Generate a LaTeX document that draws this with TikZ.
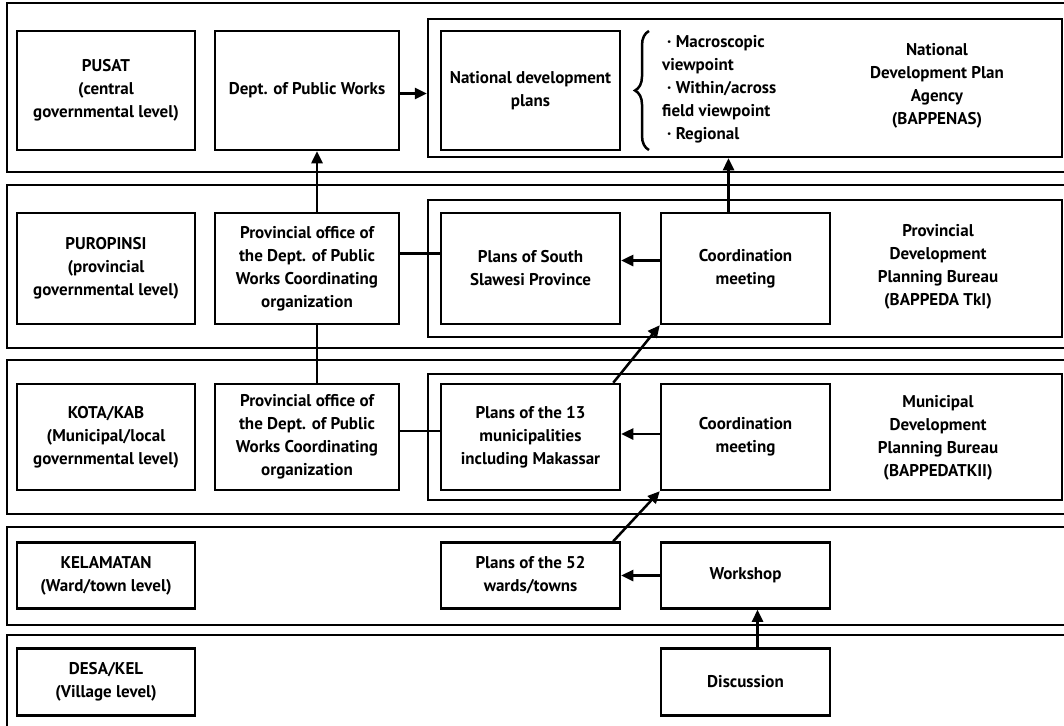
\documentclass[tikz,border=0pt]{standalone}
\usepackage{fontspec}
\setmainfont{PT Sans}
\usetikzlibrary{arrows.meta,decorations.pathreplacing,calc}
\begin{document}
\begin{tikzpicture}[x=1pt,y=-1pt,
  txt/.style={font=\bfseries\fontsize{17}{23}\selectfont,align=center,inner sep=1pt},
  bx/.style={txt,draw,line width=2.5pt},
  grp/.style={draw,line width=2.5pt,inner sep=0pt},
  band/.style={draw,line width=2.5pt},
  arr/.style={line width=2.5pt,-{Triangle[length=12pt,width=11pt]}},
  ln/.style={line width=2.5pt}]
\useasboundingbox (0,0) rectangle (1064,725);
% bands (right edges run off the page, as in the scan)
\draw[band] (7,3) rectangle (1090,172);
\draw[band] (7,185) rectangle (1090,348);
\draw[band] (7,360) rectangle (1090,514);
\draw[band] (7,527) rectangle (1090,625);
\draw[band] (7,745) -- (7,635) -- (1090,635);
% group boxes
\node[grp,minimum width=634pt,minimum height=138pt] (g1) at (745,88) {};
\node[grp,minimum width=634pt,minimum height=137pt] (g2) at (745,268.5) {};
\node[grp,minimum width=634pt,minimum height=126pt] (g3) at (745,437) {};
% band 1
\node[bx,minimum width=178pt,minimum height=119pt] (l1) at (106,90.5) {PUSAT\\(central\\governmental level)};
\node[bx,minimum width=184pt,minimum height=119pt] (dept) at (307,90.5) {Dept. of Public Works};
\node[bx,minimum width=179pt,minimum height=119pt] (nat) at (530.5,90.5) {National development\\plans};
\draw[decorate,decoration={brace,amplitude=14pt},line width=2.5pt] (649,150) -- (649,31);
\node[txt,align=left,anchor=west] (bul) at (661,89) {\hspace{5pt}· Macroscopic\\viewpoint\\\hspace{5pt}· Within/across\\field viewpoint\\\hspace{5pt}· Regional};
\node[txt] (bappenas) at (937,86) {National\\Development Plan\\Agency\\(BAPPENAS)};
% band 2
\node[bx,minimum width=178pt,minimum height=111pt] (l2) at (106,268.5) {PUROPINSI\\(provincial\\governmental level)};
\node[bx,minimum width=184pt,minimum height=111pt] (prov2) at (307,268.5) {Provincial office of\\the Dept. of Public\\Works Coordinating\\organization};
\node[bx,minimum width=179pt,minimum height=111pt] (ps) at (530.5,268.5) {Plans of South\\Slawesi Province};
\node[bx,minimum width=169pt,minimum height=111pt] (c2) at (745.5,268.5) {Coordination\\meeting};
\node[txt] (bappeda1) at (938,267) {Provincial\\Development\\Planning Bureau\\(BAPPEDA TkI)};
% band 3
\node[bx,minimum width=178pt,minimum height=106pt] (l3) at (106,437) {KOTA/KAB\\(Municipal/local\\governmental level)};
\node[bx,minimum width=184pt,minimum height=106pt] (prov3) at (307,437) {Provincial office of\\the Dept. of Public\\Works Coordinating\\organization};
\node[bx,minimum width=179pt,minimum height=106pt] (p13) at (530.5,437) {Plans of the 13\\municipalities\\including Makassar};
\node[bx,minimum width=169pt,minimum height=106pt] (c3) at (745.5,437) {Coordination\\meeting};
\node[txt] (bappeda2) at (938,438) {Municipal\\Development\\Planning Bureau\\(BAPPEDATKII)};
% band 4
\node[bx,minimum width=178pt,minimum height=66pt] (l4) at (106,575.5) {KELAMATAN\\(Ward/town level)};
\node[bx,minimum width=179pt,minimum height=66pt] (p52) at (530.5,575.5) {Plans of the 52\\wards/towns};
\node[bx,minimum width=169pt,minimum height=66pt] (ws) at (745.5,575.5) {Workshop};
% band 5
\node[bx,minimum width=178pt,minimum height=67pt] (l5) at (106,682) {DESA/KEL\\(Village level)};
\node[bx,minimum width=169pt,minimum height=67pt] (disc) at (745.5,682) {Discussion};
% connectors
\draw[arr] ([yshift=-3pt]dept.east) -- ([yshift=-3pt]dept.east -| g1.west);
\draw[arr] ([xshift=10pt]prov2.north) -- ([xshift=10pt]dept.south);
\draw[ln] ([xshift=10pt]prov2.south) -- ([xshift=10pt]prov3.north);
\draw[ln] ([yshift=15pt]prov2.east) -- ([yshift=15pt]ps.west);
\draw[ln] ([yshift=6pt]prov3.east) -- ([yshift=6pt]p13.west);
\draw[arr] ([yshift=8pt]c2.west) -- ([yshift=8pt]ps.east);
\draw[arr] ([yshift=3pt]c3.west) -- ([yshift=3pt]p13.east);
\draw[arr] (ws) -- (p52);
\draw[arr] ([xshift=-17pt]c2.north) -- ([xshift=-17pt]c2.north |- g1.south);
\draw[arr] ([xshift=-8pt]p13.north east) -- (c2.south west);
\draw[arr] ([xshift=-8pt]p52.north east) -- (c3.south west);
\draw[arr] ([xshift=12pt]disc.north) -- ([xshift=12pt]ws.south);
\end{tikzpicture}
\end{document}
